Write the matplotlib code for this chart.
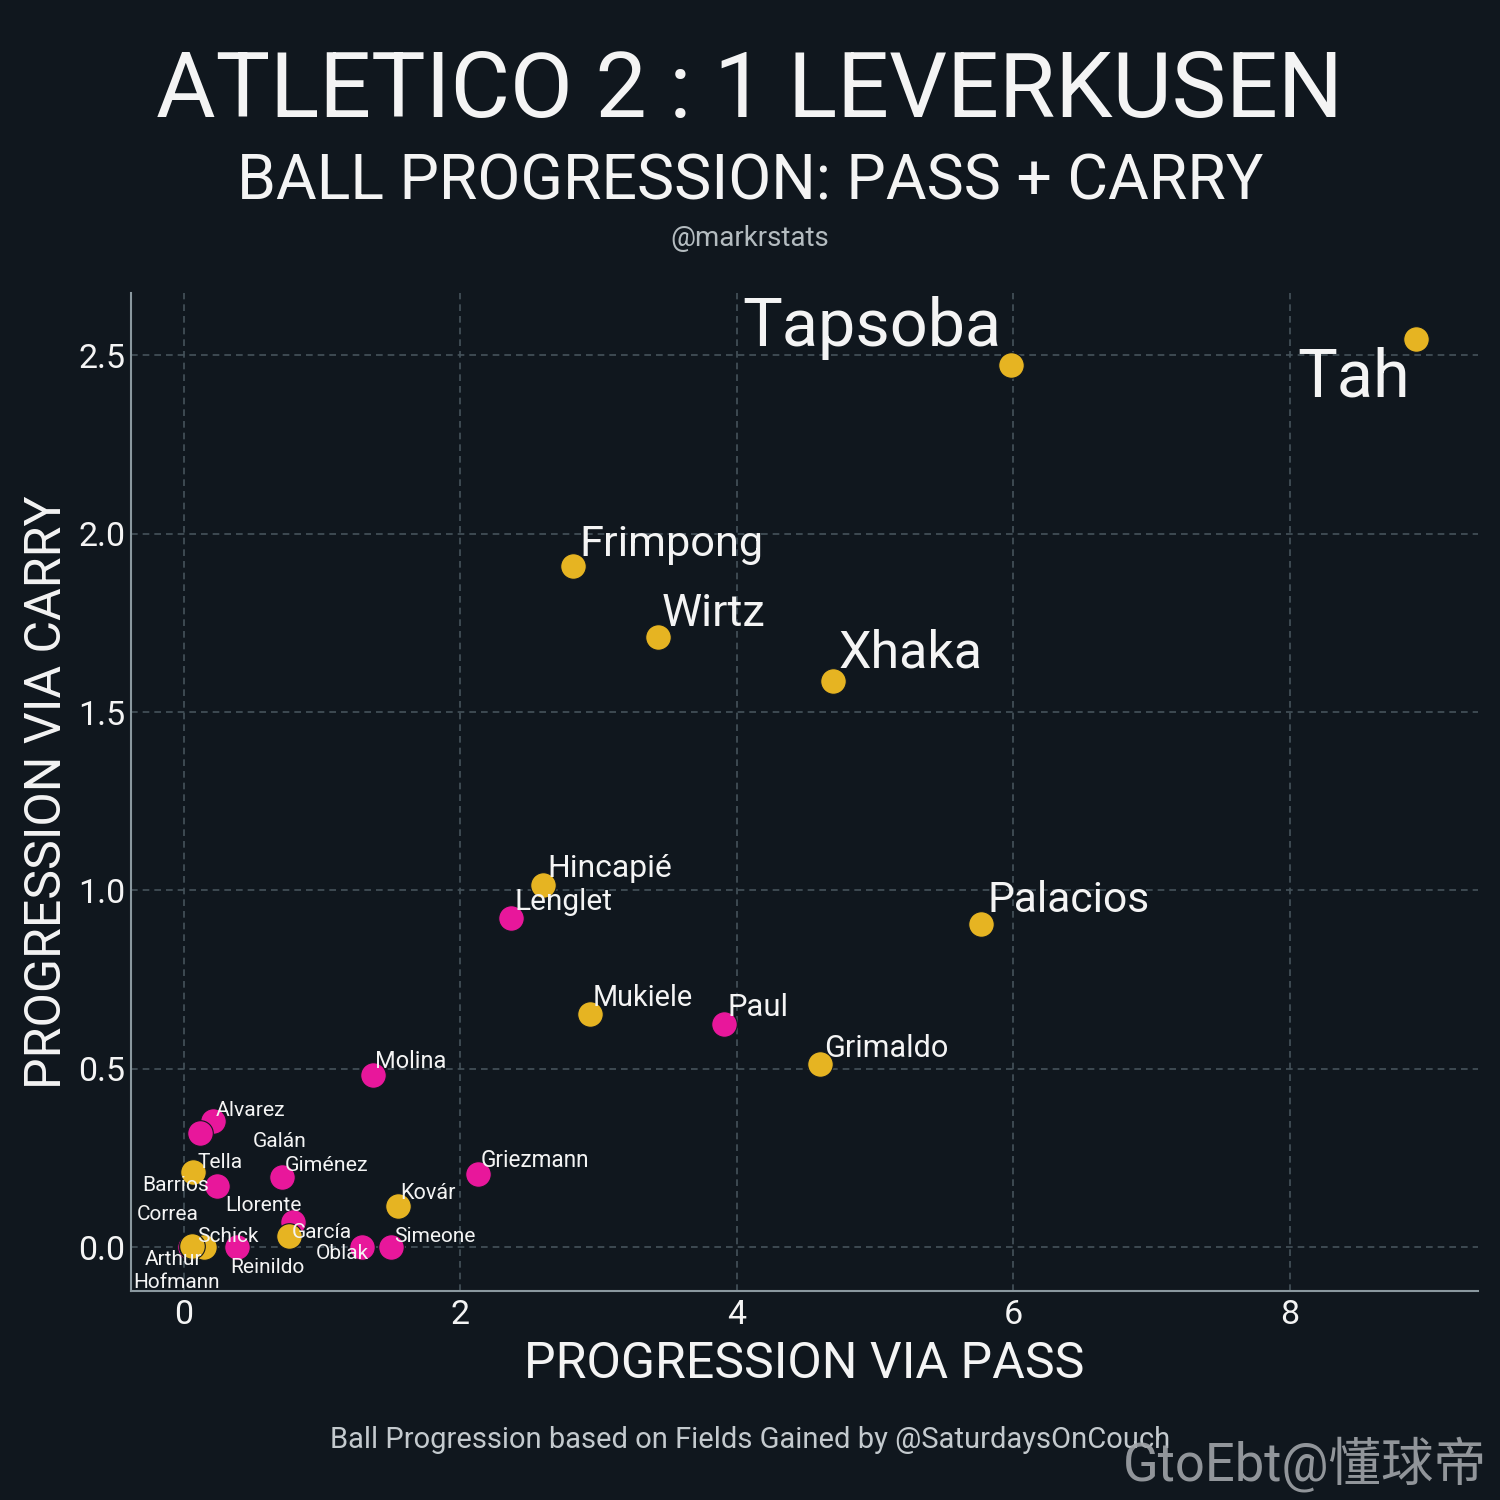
import numpy as np
import matplotlib
matplotlib.use("Agg")
import matplotlib.pyplot as plt

# =========================
# Data
# =========================
players = ['Correa', 'Hofmann', 'Schick', 'Arthur', 'Reinildo', 'Oblak', 'Simeone',
           'Llorente', 'García', 'Giménez', 'Tella', 'Barrios', 'Alvarez', 'Galán',
           'Kovár', 'Griezmann', 'Molina', 'Grimaldo', 'Paul', 'Mukiele', 'Lenglet',
           'Hincapié', 'Palacios', 'Xhaka', 'Wirtz', 'Frimpong', 'Tapsoba', 'Tah']
team = ['ATM', 'B04', 'B04', 'B04', 'ATM', 'ATM', 'ATM',
        'ATM', 'B04', 'ATM', 'B04', 'ATM', 'ATM', 'ATM',
        'B04', 'ATM', 'ATM', 'B04', 'ATM', 'B04', 'ATM',
        'B04', 'B04', 'B04', 'B04', 'B04', 'B04', 'B04']
pass_prog = [0.05, 0.06, 0.15, 0.065, 0.39, 1.29, 1.50,
             0.79, 0.76, 0.71, 0.07, 0.24, 0.21, 0.12,
             1.55, 2.13, 1.37, 4.60, 3.91, 2.94, 2.37,
             2.60, 5.77, 4.70, 3.43, 2.82, 5.98, 8.91]
carry_prog = [0.0, 0.0, 0.0, 0.003, 0.0, 0.0, 0.0,
              0.070, 0.031, 0.196, 0.21, 0.171, 0.353, 0.320,
              0.115, 0.205, 0.482, 0.513, 0.625, 0.653, 0.922,
              1.015, 0.905, 1.587, 1.710, 1.909, 2.473, 2.545]

# label placement (offset in pixels from the point, horizontal alignment)
label_offsets = {
    'Tah': (-6, -57, 'right'), 'Tapsoba': (-9, 19, 'right'),
    'Frimpong': (6, 10, 'left'), 'Wirtz': (4, 11, 'left'),
    'Xhaka': (5, 14, 'left'), 'Palacios': (6, 12, 'left'),
    'Hincapié': (4, 8, 'left'), 'Lenglet': (3, 8, 'left'),
    'Mukiele': (3, 8, 'left'), 'Paul': (3, 8, 'left'),
    'Grimaldo': (4, 7, 'left'), 'Molina': (2, 7, 'left'),
    'Griezmann': (3, 7, 'left'), 'Kovár': (2, 7, 'left'),
    'Simeone': (3, 5, 'left'), 'Oblak': (7, -12, 'right'),
    'García': (3, -2, 'left'), 'Llorente': (9, 11, 'right'),
    'Giménez': (3, 6, 'left'), 'Reinildo': (-7, -26, 'left'),
    'Schick': (-7, 5, 'left'), 'Arthur': (10, -19, 'right'),
    'Hofmann': (-59, -41, 'left'), 'Correa': (8, 27, 'right'),
    'Tella': (4, 4, 'left'), 'Barrios': (-8, -5, 'right'),
    'Alvarez': (3, 5, 'left'), 'Galán': (53, -14, 'left'),
}

BG = '#10171e'
FG = '#f4f4f4'
team_colors = {'ATM': '#e8179b', 'B04': '#e6b422'}

plt.rcParams['font.family'] = ['Roboto', 'Noto Sans CJK SC', 'DejaVu Sans']

fig = plt.figure(figsize=(15, 15), dpi=100, facecolor=BG)
ax = fig.add_axes([0.0873, 0.1393, 0.898, 0.6654])
ax.set_facecolor(BG)

# =========================
# Points
# =========================
for i in range(len(players)):
    ax.scatter(pass_prog[i], carry_prog[i], s=340, color=team_colors[team[i]],
               edgecolor=BG, linewidth=0.8, zorder=3)

# =========================
# Labels, size grows with pass x carry (capped)
# =========================
for i, name in enumerate(players):
    prod = max(pass_prog[i] * carry_prog[i], 0.0)
    fs = min(15 + 3 * prod, 48)
    dx, dy, ha = label_offsets[name]
    ax.annotate(name, (pass_prog[i], carry_prog[i]), xytext=(dx, dy),
                textcoords='offset pixels', ha=ha, va='baseline',
                fontsize=fs, color=FG, zorder=4)

# =========================
# Axes styling
# =========================
ax.set_xlim(-0.38, 9.36)
ax.set_ylim(-0.123, 2.675)
ax.set_xticks([0, 2, 4, 6, 8])
ax.set_yticks([0.0, 0.5, 1.0, 1.5, 2.0, 2.5])
ax.set_yticklabels(['0.0', '0.5', '1.0', '1.5', '2.0', '2.5'])
ax.grid(True, linestyle=(0, (4, 3)), color='#45535b', linewidth=1.2, zorder=0)
ax.set_axisbelow(True)
for side in ['top', 'right']:
    ax.spines[side].set_visible(False)
for side in ['left', 'bottom']:
    ax.spines[side].set_color('#8a989f')
    ax.spines[side].set_linewidth(1.5)
ax.tick_params(colors=FG, labelsize=24.5, length=0)
ax.tick_params(axis='x', pad=6)
ax.tick_params(axis='y', pad=4)

ax.set_xlabel('PROGRESSION VIA PASS', fontsize=36, color=FG, labelpad=6)
ax.set_ylabel('PROGRESSION VIA CARRY', fontsize=36, color=FG, labelpad=5)

# =========================
# Titles and captions
# =========================
fig.text(0.5, 0.922, 'ATLETICO 2 : 1 LEVERKUSEN', ha='center', va='baseline',
         fontsize=65.8, color=FG)
fig.text(0.5, 0.8667, 'BALL PROGRESSION: PASS + CARRY', ha='center', va='baseline',
         fontsize=45, color=FG)
fig.text(0.5, 0.836, '@markrstats', ha='center', va='baseline',
         fontsize=20, color='#b4bcc0')
fig.text(0.5, 0.035, 'Ball Progression based on Fields Gained by @SaturdaysOnCouch',
         ha='center', va='baseline', fontsize=21, color='#c4cace')
fig.text(0.991, 0.013, 'GtoEbt@懂球帝', ha='right', va='baseline',
         fontsize=37.8, color='#a0a4a8', alpha=0.9)

fig.savefig('out.png', dpi=100, facecolor=BG)
